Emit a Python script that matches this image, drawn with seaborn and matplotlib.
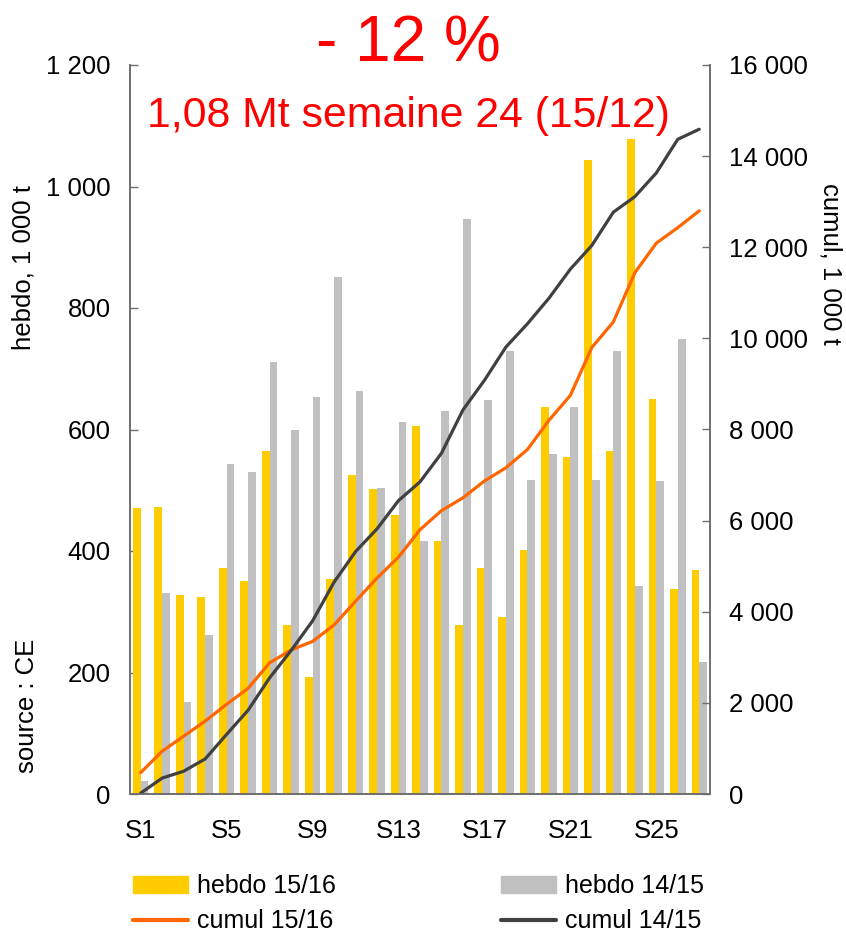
import matplotlib
matplotlib.use("Agg")
import matplotlib.pyplot as plt
from matplotlib.patches import Patch
from matplotlib.lines import Line2D
import seaborn as sns
import numpy as np
import pandas as pd

# données (1 000 t)
semaines = [f"S{i}" for i in range(1, 28)]
hebdo_1516 = [470, 473, 328, 324, 372, 351, 565, 278, 193, 354, 525, 502, 460, 605,
              417, 278, 372, 292, 402, 637, 555, 1043, 565, 1078, 651, 337, 369]
hebdo_1415 = [21, 331, 152, 262, 543, 530, 711, 600, 653, 851, 664, 504, 613, 417,
              631, 946, 648, 730, 517, 559, 637, 517, 730, 343, 515, 749, 218]
cumul_1516 = [470, 940, 1270, 1600, 1970, 2320, 2880, 3160, 3350, 3710, 4230, 4740,
              5200, 5800, 6220, 6500, 6870, 7160, 7560, 8200, 8750, 9800, 10360,
              11440, 12090, 12430, 12800]
cumul_1415 = [20, 350, 500, 770, 1310, 1840, 2550, 3150, 3800, 4650, 5320, 5820,
              6440, 6850, 7480, 8430, 9080, 9810, 10320, 10880, 11520, 12040, 12770,
              13110, 13630, 14370, 14590]
xtick_labels = ["S1", "S5", "S9", "S13", "S17", "S21", "S25"]
left_ticks = [0, 200, 400, 600, 800, 1000, 1200]
right_ticks = [0, 2000, 4000, 6000, 8000, 10000, 12000, 14000, 16000]

c_jaune = "#FFCC00"
c_gris = "#C0C0C0"
c_orange = "#FF6600"
c_noir = "#404040"
c_axe = "#6E6E6E"

sns.set_theme(style="white")
plt.rcParams['font.family'] = ['Liberation Sans', 'DejaVu Sans']
plt.rcParams['text.color'] = 'black'
plt.rcParams['xtick.labelcolor'] = 'black'
plt.rcParams['ytick.labelcolor'] = 'black'

df = pd.DataFrame({
    "semaine": semaines * 2,
    "valeur": hebdo_1516 + hebdo_1415,
    "serie": ["hebdo 15/16"] * 27 + ["hebdo 14/15"] * 27,
})

fig = plt.figure(figsize=(8.46, 9.36), dpi=100)
ax = fig.add_axes([130 / 846, 1 - 794 / 936, 580 / 846, (794 - 65) / 936])

sns.barplot(data=df, x="semaine", y="valeur", hue="serie",
            palette=[c_jaune, c_gris], width=0.72, saturation=1,
            legend=False, ax=ax, linewidth=0)

ax2 = ax.twinx()
pos = np.arange(len(semaines))
sns.lineplot(x=pos, y=cumul_1516, color=c_orange, linewidth=2.3, ax=ax2)
sns.lineplot(x=pos, y=cumul_1415, color=c_noir, linewidth=2.3, ax=ax2)

ax.set_xlim(-0.5, len(semaines) - 0.5)
ax.set_ylim(0, 1200)
ax2.set_ylim(0, 16000)

def fmt(v):
    return f"{v:,}".replace(",", " ")

ax.set_yticks(left_ticks)
ax.set_yticklabels([fmt(v) for v in left_ticks])
ax2.set_yticks(right_ticks)
ax2.set_yticklabels([fmt(v) for v in right_ticks])
ax.set_xticks([0, 4, 8, 12, 16, 20, 24])
ax.set_xticklabels(xtick_labels)
ax.set_xlabel("")
ax.set_ylabel("")
ax2.set_ylabel("")

for a in (ax, ax2):
    a.spines["top"].set_visible(False)
    for s in ("left", "right", "bottom"):
        a.spines[s].set_color(c_axe)
        a.spines[s].set_linewidth(1.2)
ax.tick_params(axis="y", direction="in", length=6, width=1, color=c_axe,
               labelsize=18.5, pad=14, left=True, labelcolor="black")
ax2.tick_params(axis="y", direction="in", length=6, width=1, color=c_axe,
                labelsize=18.5, pad=14, right=True, labelcolor="black")
ax.tick_params(axis="x", length=0, labelsize=18.5, pad=18, labelcolor="black")

# titres
fig.text(408 / 846, 1 - 61 / 936, "- 12 %", color="red", fontsize=46,
         ha="center", va="baseline")
fig.text(408 / 846, 1 - 127 / 936, "1,08 Mt semaine 24 (15/12)", color="red",
         fontsize=30.8, ha="center", va="baseline")

fig.text(24 / 846, 1 - 268 / 936, "hebdo, 1 000 t", rotation=90, fontsize=18.5,
         ha="center", va="center")
fig.text(830 / 846, 1 - 264 / 936, "cumul, 1 000 t", rotation=-90, fontsize=18.5,
         ha="center", va="center")
fig.text(27 / 846, 1 - 706 / 936, "source : CE", rotation=90, fontsize=18.5,
         ha="center", va="center")

# légende
handles = [Patch(color=c_jaune), Line2D([], [], color=c_orange, linewidth=3),
           Patch(color=c_gris), Line2D([], [], color=c_noir, linewidth=3)]
labels = ["hebdo 15/16", "cumul 15/16", "hebdo 14/15", "cumul 14/15"]
fig.legend(handles, labels, ncol=2, loc="upper left",
           bbox_to_anchor=(133 / 846, 1 - 874 / 936), frameon=False,
           fontsize=18, handlelength=2.2, handleheight=0.7, handletextpad=0.36,
           columnspacing=6.6, labelspacing=0.45, borderpad=0, borderaxespad=0)

plt.savefig("out.png", dpi=100)
plt.close()
